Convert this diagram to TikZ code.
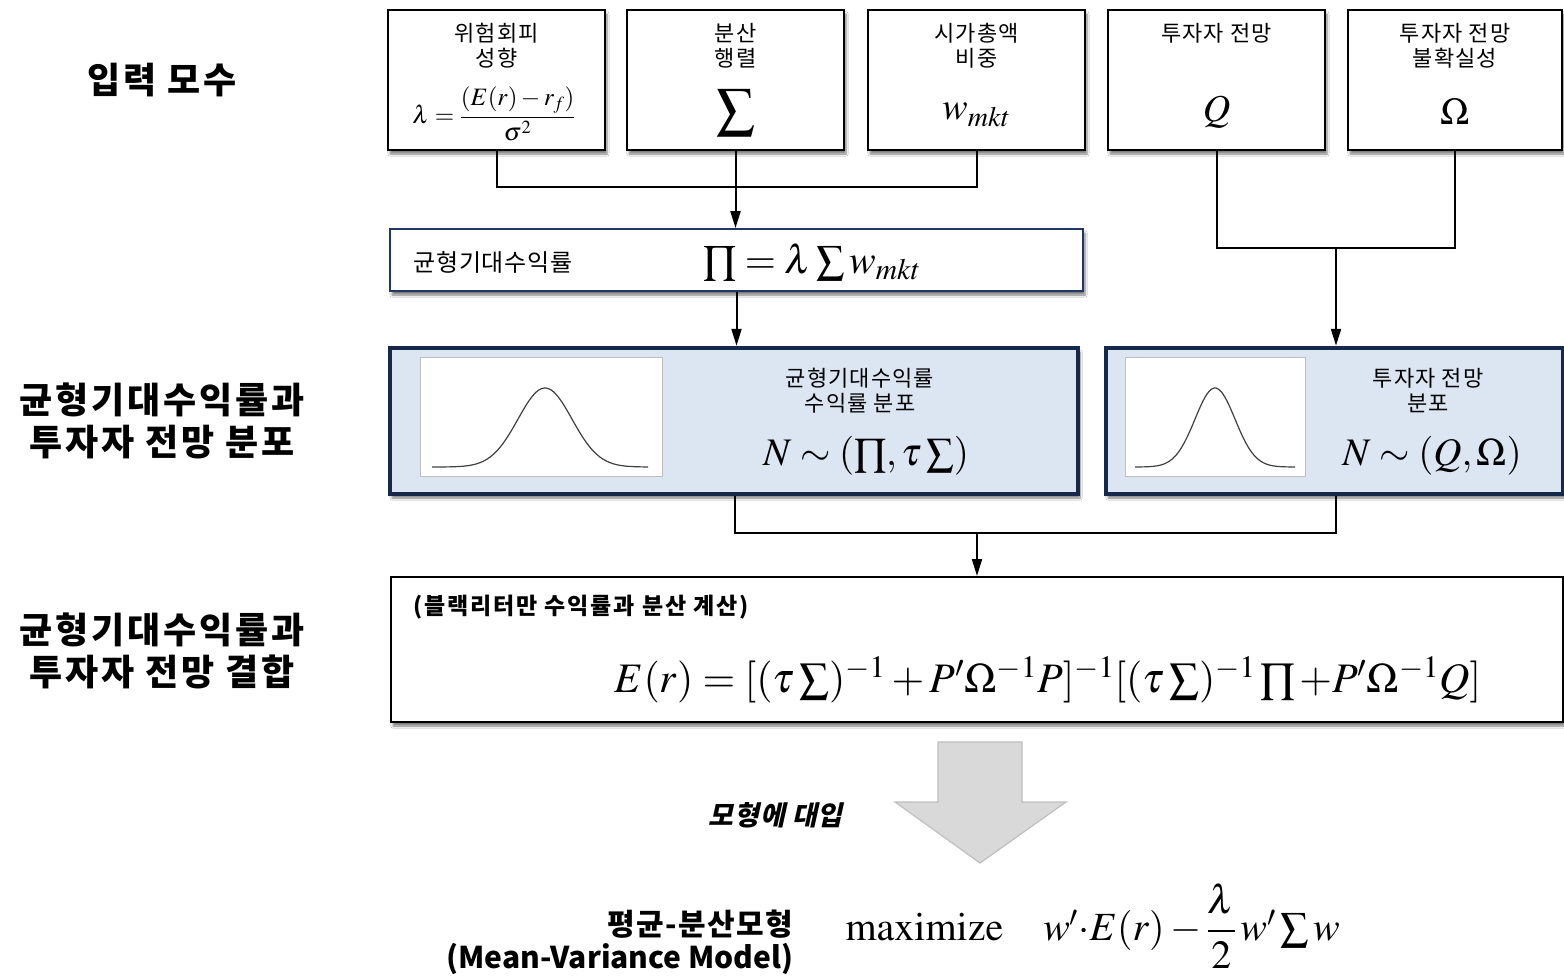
\documentclass[tikz,border=0pt]{standalone}
\usepackage{mathptmx}
\usepackage[no-math]{fontspec}
\setmainfont{Noto Sans CJK KR}
\usetikzlibrary{arrows.meta,shadows.blur}
\definecolor{navy}{HTML}{16294A}
\definecolor{eqblue}{HTML}{1F3864}
\definecolor{lightblue}{HTML}{DCE6F2}
\definecolor{arrowgrey}{HTML}{D9D9D9}
\definecolor{arrowedge}{HTML}{BFBFBF}
\newcommand\fsz[2]{\fontsize{#1}{#2}\selectfont}
\newcommand\lsp[1]{\addfontfeature{LetterSpace=#1}}
\tikzset{
  shad/.style={blur shadow={shadow xshift=2pt,shadow yshift=-4pt,shadow blur steps=6,shadow opacity=50}},
  inbox/.style={draw,line width=2pt,fill=white,minimum width=217pt,minimum height=140pt,inner sep=0pt,shad},
  eqbox/.style={draw=eqblue,line width=1.8pt,fill=white,minimum width=693pt,minimum height=62pt,inner sep=0pt,shad},
  distbox/.style={draw=navy,line width=4.5pt,fill=lightblue,minimum height=146pt,inner sep=0pt,shad},
  combbox/.style={draw,line width=2pt,fill=white,minimum width=1172pt,minimum height=145pt,inner sep=0pt,shad},
  picbox/.style={draw=arrowedge,line width=0.8pt,fill=white,inner sep=0pt},
  lbl/.style={align=center,font=\fsz{22}{25}\lsp{5}},
  sidelbl/.style={align=center,font=\fsz{36}{42}\bfseries\lsp{8}},
  conn/.style={line width=2pt},
  arr/.style={line width=2pt,-{Triangle[length=17pt,width=10pt]}},
  curve/.style={line width=1.2pt,draw=black!75}
}
\begin{document}
\begin{tikzpicture}[x=1pt,y=-1pt]
\useasboundingbox (0,0) rectangle (1564,977);
\fill[white] (0,0) rectangle (1564,977);

% side labels
\node[sidelbl] (s1) at (162,80) {입력 모수};
\node[sidelbl] (s2) at (162,421) {균형기대수익률과\\투자자 전망 분포};
\node[sidelbl] (s3) at (162,651) {균형기대수익률과\\투자자 전망 결합};

% top input boxes
\node[inbox] (b1) at (496.5,80) {};
\node[inbox] (b2) at (735.5,80) {};
\node[inbox] (b3) at (976.5,80) {};
\node[inbox] (b4) at (1216.5,80) {};
\node[inbox,minimum width=214pt] (b5) at (1455,80) {};

\node[lbl] (t1) at (496.5,46) {위험회피\\성향};
\node[lbl] (t2) at (735.5,46) {분산\\행렬};
\node[lbl] (t3) at (976.5,46) {시가총액\\비중};
\node[lbl] (t4) at (1216.5,33) {투자자 전망};
\node[lbl] (t5) at (1455,46) {투자자 전망\\불확실성};

\node (f1) at (494,114) {\fsz{25}{28}$\displaystyle\lambda=\frac{(E(r)-r_f)}{\sigma^2}$};
\node (f2) at (735.5,113) {\fsz{38}{44}$\displaystyle\sum$};
\node (f3) at (976.5,115) {\fsz{38}{42}$w_{mkt}$};
\node (f4) at (1216.5,112) {\fsz{38}{42}$Q$};
\node (f5) at (1455,112) {\fsz{38}{42}$\Omega$};

% equilibrium box
\node[eqbox] (eq) at (736.5,260) {};
\node[anchor=west,font=\fsz{24}{28}\lsp{3}] (eqt) at (410,262) {균형기대수익률};
\node (eqf) at (812,262) {\fsz{40}{44}$\prod=\lambda\sum w_{mkt}$};

% distribution boxes
\node[distbox,minimum width=688pt] (ld) at (734,421) {};
\node[distbox,minimum width=457pt] (rd) at (1334.5,421) {};

\draw[picbox] (420,357) rectangle (662,476);
\draw[curve] plot[domain=432:648,samples=90,smooth] (\x,{467-79*exp(-((\x-545)/27)^2/2)});
\draw[picbox] (1125,357) rectangle (1305,476);
\draw[curve] plot[domain=1135:1295,samples=90,smooth] (\x,{467-79*exp(-((\x-1215)/20)^2/2)});

\node[lbl] (ldt) at (860,391) {균형기대수익률\\수익률 분포};
\node (ldf) at (866,456) {\fsz{39}{42}$N\sim(\prod,\tau\sum)$};
\node[lbl] (rdt) at (1428,391) {투자자 전망\\분포};
\node (rdf) at (1432,456) {\fsz{39}{42}$N\sim(Q,\Omega)$};

% combination box
\node[combbox] (cb) at (977,649.5) {};
\node[anchor=west,font=\fsz{23}{26}\bfseries\lsp{8}] (cbt) at (410,607) {(블랙리터만 수익률과 분산 계산)};
\node (cbf) at (1048,680) {\fsz{42}{46}$E(r)=[(\tau\sum)^{-1}+P'\Omega^{-1}P]^{-1}[(\tau\sum)^{-1}\prod+P'\Omega^{-1}Q]$};

% connectors
\coordinate (j1) at (735.5,187);
\draw[conn] (b1.south) |- (j1) -| (b3.south);
\draw[conn] (b2.south) -- (j1);
\draw[arr] (j1) -- (j1 |- eq.north);

\coordinate (j2) at (1336,248);
\draw[conn] (b4.south) |- (j2) -| (b5.south);
\draw[arr] (j2) -- (j2 |- rd.north);

\draw[arr] (eq.south) -- (eq.south |- ld.north);

\coordinate (j3) at (977,533);
\coordinate (lb) at (735,495);
\coordinate (rb) at (1336,495);
\draw[conn] (ld.south -| lb) |- (j3) -| (rd.south -| rb);
\draw[arr] (j3) -- (j3 |- cb.north);

% big grey arrow
\draw[fill=arrowgrey,draw=arrowedge,line width=1.2pt]
  (938,742) -- (1022,742) -- (1022,802) -- (1066,802) -- (980,863) -- (895,802) -- (938,802) -- cycle;
\node[font=\fsz{27}{30}\bfseries\lsp{3},xslant=0.22,transform shape] (sub) at (778,815) {모형에 대입};

% mean-variance
\node[anchor=east,font=\fsz{30}{34}\bfseries\lsp{5}] (mv1) at (797,924) {평균-분산모형};
\node[anchor=east,font=\fsz{30}{34}\bfseries] (mv2) at (797,959) {(Mean-Variance Model)};
\node[anchor=west] (mvf) at (842,926) {\fsz{40}{44}$\mathrm{maximize}\quad w'{\cdot}E(r)-\displaystyle\frac{\lambda}{2}\,\textstyle w'\sum w$};
\end{tikzpicture}
\end{document}
